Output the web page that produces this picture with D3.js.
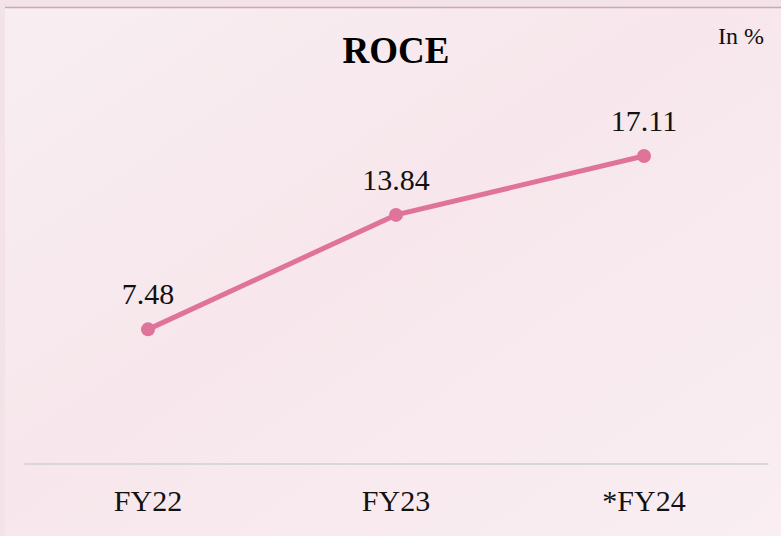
<!DOCTYPE html>
<html>
<head>
<meta charset="utf-8">
<script src="https://cdn.jsdelivr.net/npm/d3@7"></script>
<style>
  body { margin: 0; background: #f5e6eb; }
  svg { display: block; }
</style>
</head>
<body>
<div id="chart"></div>
<script>
// chart data
var years  = ["FY22", "FY23", "*FY24"];
var roce   = [7.48, 13.84, 17.11];
var title  = "ROCE";
var unit   = "In %";

var width  = 781,
    height = 536;

var svg = d3.select("#chart")
  .append("svg")
  .attr("width", width)
  .attr("height", height);

// background gradients
var defs = svg.append("defs");
var bg = defs.append("linearGradient")
  .attr("id", "bg")
  .attr("x1", "0").attr("y1", "0")
  .attr("x2", "1").attr("y2", "1");
bg.append("stop").attr("offset", "0%").attr("stop-color", "#f8eef1");
bg.append("stop").attr("offset", "45%").attr("stop-color", "#f7e7ec");
bg.append("stop").attr("offset", "100%").attr("stop-color", "#f9eef2");

var edge = defs.append("linearGradient")
  .attr("id", "edge")
  .attr("x1", "0").attr("y1", "0")
  .attr("x2", "0").attr("y2", "1");
edge.append("stop").attr("offset", "0%").attr("stop-color", "#8c6f7c");
edge.append("stop").attr("offset", "100%").attr("stop-color", "#e9a9bd");

svg.append("rect")
  .attr("width", width)
  .attr("height", height)
  .attr("fill", "#f3e2e8");

svg.append("rect")
  .attr("x", 5)
  .attr("y", 7)
  .attr("width", width - 5)
  .attr("height", height - 7)
  .attr("fill", "url(#bg)");

// frame lines (top and left)
svg.append("line")
  .attr("x1", 5).attr("x2", width)
  .attr("y1", 7.5).attr("y2", 7.5)
  .attr("stroke", "#c9a9b5")
  .attr("stroke-width", 1.5);

svg.append("line")
  .attr("x1", 5.5).attr("x2", 5.5)
  .attr("y1", 7).attr("y2", height)
  .attr("stroke", "url(#edge)")
  .attr("stroke-width", 1.5);

//scales
var x = d3.scaleBand()
  .domain(years)
  .range([24, 768]);

var y = d3.scaleLinear()
  .domain([0, 20])
  .range([464, 104]);

//axis
var xAxis = d3.axisBottom(x).tickSize(0).tickPadding(0);

var gx = svg.append("g")
  .attr("class", "x axis")
  .attr("transform", "translate(0,463.5)")
  .call(xAxis);

gx.select(".domain")
  .attr("stroke", "#d9d6d8")
  .attr("stroke-width", 2);

gx.selectAll("text")
  .attr("y", 47)
  .attr("dy", 0)
  .attr("fill", "#111")
  .style("font-family", "'Liberation Serif', 'Times New Roman', serif")
  .style("font-size", "30px");

// line
var line = d3.line()
  .x(function (d, i) { return x(years[i]) + x.bandwidth() / 2; })
  .y(function (d) { return y(d); });

svg.append("path")
  .datum(roce)
  .attr("d", line)
  .attr("fill", "none")
  .attr("stroke", "#df739a")
  .attr("stroke-width", 5)
  .attr("stroke-linecap", "round");

svg.selectAll("circle.pt")
  .data(roce)
  .enter()
  .append("circle")
  .attr("class", "pt")
  .attr("cx", function (d, i) { return x(years[i]) + x.bandwidth() / 2; })
  .attr("cy", function (d) { return y(d); })
  .attr("r", 7)
  .attr("fill", "#df739a");

// value labels
svg.selectAll("text.val")
  .data(roce)
  .enter()
  .append("text")
  .attr("class", "val")
  .attr("x", function (d, i) { return x(years[i]) + x.bandwidth() / 2; })
  .attr("y", function (d) { return y(d) - 25; })
  .attr("text-anchor", "middle")
  .attr("fill", "#111")
  .style("font-family", "'Liberation Serif', 'Times New Roman', serif")
  .style("font-size", "30px")
  .text(function (d) { return d.toFixed(2); });

// title and unit
svg.append("text")
  .attr("x", 396)
  .attr("y", 63)
  .attr("text-anchor", "middle")
  .attr("fill", "#000")
  .style("font-family", "'Liberation Serif', 'Times New Roman', serif")
  .style("font-size", "37px")
  .style("font-weight", "bold")
  .text(title);

svg.append("text")
  .attr("x", 764)
  .attr("y", 44)
  .attr("text-anchor", "end")
  .attr("fill", "#111")
  .style("font-family", "'Liberation Serif', 'Times New Roman', serif")
  .style("font-size", "24px")
  .text(unit);
</script>
</body>
</html>
